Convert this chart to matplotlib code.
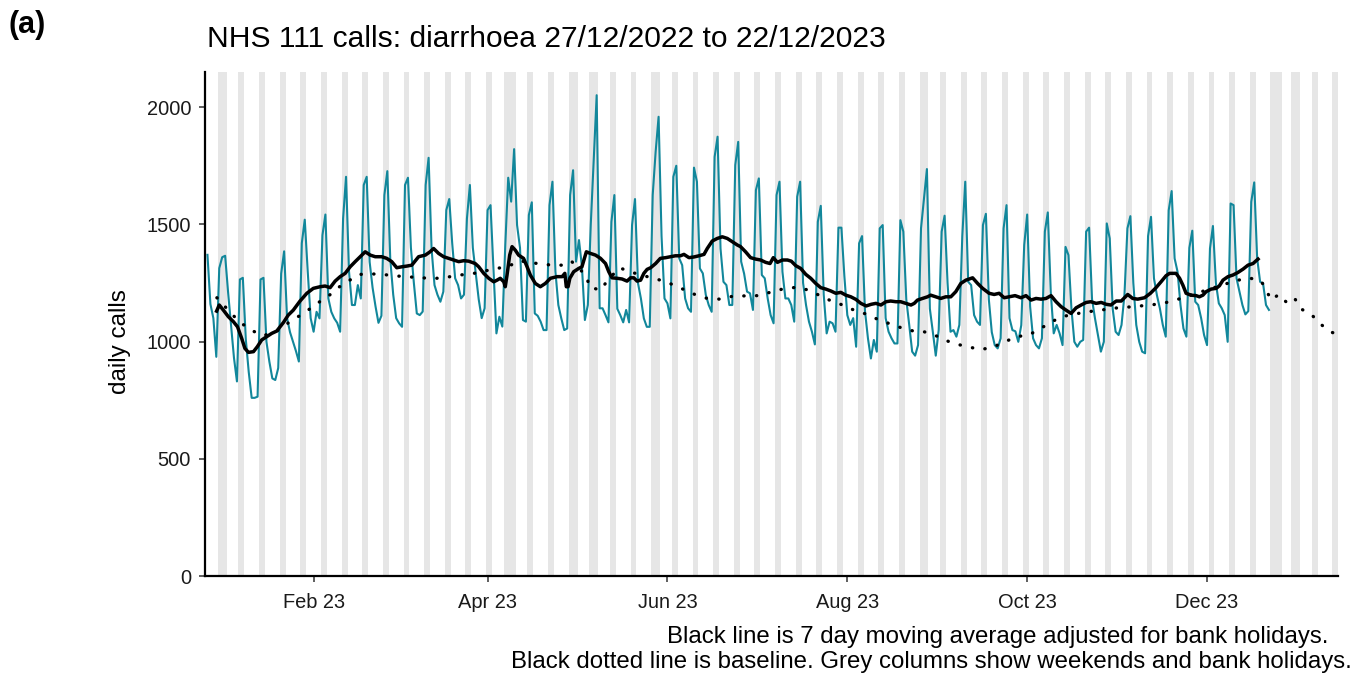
import matplotlib
matplotlib.use("Agg")
import matplotlib.pyplot as plt
import pandas as pd

plt.rcParams["font.family"] = ["Liberation Sans", "DejaVu Sans"]

# ---------------- data ----------------
start_date = "2022-12-27"

# daily NHS 111 diarrhoea calls (first row Tue-Fri, then one row per Sat..Fri week)
daily_calls = [
    1370, 1160, 1100, 935,
    1313, 1360, 1366, 1210, 1070, 930, 830,
    1265, 1272, 1010, 870, 760, 760, 765,
    1265, 1272, 1000, 914, 843, 836, 887,
    1290, 1385, 1100, 1040, 1000, 960, 915,
    1420, 1520, 1300, 1100, 1042, 1127, 1099,
    1454, 1542, 1184, 1127, 1099, 1080, 1042,
    1525, 1703, 1300, 1156, 1156, 1241, 1184,
    1668, 1703, 1340, 1230, 1150, 1080, 1110,
    1625, 1727, 1350, 1200, 1100, 1078, 1063,
    1668, 1699, 1400, 1250, 1120, 1113, 1128,
    1668, 1784, 1397, 1241, 1200, 1170, 1213,
    1561, 1608, 1420, 1270, 1241, 1184, 1200,
    1525, 1668, 1400, 1290, 1180, 1100, 1142,
    1561, 1582, 1310, 1035, 1106, 1064, 1410,
    1699, 1597, 1821, 1497, 1400, 1092, 1085,
    1540, 1594, 1120, 1110, 1085, 1049, 1049,
    1582, 1682, 1300, 1156, 1099, 1049, 1056,
    1625, 1731, 1341, 1433, 1320, 1092, 1156,
    1500, 1780, 2051, 1142, 1142, 1113, 1082,
    1511, 1625, 1140, 1113, 1082, 1135, 1082,
    1497, 1608, 1250, 1184, 1099, 1063, 1063,
    1625, 1810, 1959, 1450, 1184, 1163, 1099,
    1703, 1750, 1355, 1326, 1184, 1142, 1127,
    1742, 1682, 1312, 1291, 1200, 1156, 1127,
    1788, 1874, 1397, 1255, 1241, 1156, 1156,
    1753, 1852, 1341, 1290, 1213, 1206, 1135,
    1646, 1696, 1284, 1270, 1184, 1113, 1078,
    1625, 1682, 1298, 1184, 1184, 1156, 1085,
    1618, 1682, 1250, 1156, 1085, 1042, 988,
    1511, 1579, 1200, 1035, 1085, 1078, 1042,
    1486, 1486, 1280, 1113, 1071, 1100, 978,
    1419, 1450, 1130, 1014, 928, 1007, 957,
    1483, 1497, 1100, 1042, 1014, 992, 992,
    1518, 1469, 1180, 1071, 957, 940, 985,
    1483, 1611, 1736, 1140, 1042, 940, 1050,
    1469, 1537, 1250, 1042, 1049, 1021, 1071,
    1450, 1682, 1255, 1241, 1113, 1085, 1071,
    1497, 1545, 1180, 1040, 985, 971, 1014,
    1483, 1582, 1100, 1049, 1044, 999, 1070,
    1412, 1542, 1150, 1014, 985, 971, 1014,
    1469, 1551, 1210, 1035, 1071, 1035, 985,
    1404, 1369, 1142, 999, 978, 999, 1007,
    1469, 1486, 1180, 1099, 1028, 957, 999,
    1504, 1440, 1140, 1042, 1028, 1071, 1200,
    1483, 1535, 1250, 1071, 999, 957, 950,
    1450, 1532, 1270, 1198, 1142, 1071, 1021,
    1560, 1642, 1355, 1298, 1156, 1056, 1021,
    1400, 1473, 1170, 1156, 1100, 1028, 985,
    1397, 1493, 1250, 1163, 1142, 1113, 999,
    1589, 1582, 1270, 1213, 1156, 1116, 1130,
    1596, 1679, 1355, 1255, 1248, 1156, 1135,
]

# 7 day moving average (days after 27/12/2022, value)
ma_day = [3.1, 4.0, 5.4, 7.1, 8.8, 10.2, 11.6, 12.7, 13.9, 15.6, 16.9, 18.4, 20.1, 21.8, 23.5,
          25.8, 27.4, 29.1, 31.4, 33.7, 35.9, 38.2, 39.9, 41.6, 43.3, 45, 46.7, 48.4, 50.1,
          51.8, 53.5, 55.2, 56.9, 59.1, 60.8, 62.5, 64.2, 65.9, 67.6, 69.3, 71.6, 73.9, 75.5,
          76.7, 78.4, 80.1, 81.8, 83.5, 85.2, 86.9, 88.6, 90.8, 92, 93.7, 95.4, 97.1, 98.2,
          99.3, 100.5, 101, 101.6, 102.5, 103.3, 104.4, 105.5, 107.2, 108.4, 109.5, 111.2,
          112.9, 114.6, 116.3, 118.6, 120.3, 121.2, 121.7, 122.3, 122.9, 124.2, 125.9, 127,
          128.5, 129.9, 131.6, 133.3, 135, 136.1, 137.2, 138.9, 140.6, 142.3, 143.5, 144.6,
          145.7, 146.9, 148, 149.1, 150.3, 152, 153.6, 155.4, 157, 158.7, 160.4, 161.6, 163.3,
          165, 166.7, 168.4, 169.5, 171.2, 172.9, 174.6, 176.3, 178, 179.7, 180.8, 182.5,
          184.2, 185.9, 187.6, 189.3, 190.8, 191.9, 193.3, 195, 196.7, 198, 199.5, 201.2,
          202.9, 204.6, 206.3, 208, 209.7, 211.4, 213.1, 214.8, 216.5, 218.2, 219.9, 221.6,
          223.4, 225.1, 226.7, 228.4, 230.1, 231.7, 233.5, 235.1, 236.9, 238.6, 239.7, 240.8,
          242.5, 244.2, 245.3, 247, 248.7, 250.4, 252.1, 253.8, 255.5, 257.2, 259.5, 261.2,
          262.9, 265.1, 266.8, 268.5, 270.2, 271.9, 273.9, 275.9, 277.6, 279.3, 281, 282.7,
          284.4, 286.1, 287.8, 289.5, 291.2, 292.9, 294.6, 296.3, 298, 299.6, 301.4, 303.1,
          304.8, 306.4, 308.2, 309.9, 312.1, 313.8, 315.5, 317.8, 319.8, 321.7, 323.4, 325.1,
          326.3, 328.5, 329.7, 330.8, 331.9, 333.6, 335.3, 336.4, 337.6, 338.7, 340.4, 342.1,
          343.2, 344.4, 346.1, 347.8, 349.5, 351.2, 352.9, 354.6, 356.3]
ma_value = [1130, 1156, 1134, 1106, 1085, 1063, 1014, 971, 954, 957, 978, 1007, 1021, 1035, 1045,
            1082, 1113, 1134, 1173, 1206, 1227, 1234, 1237, 1230, 1258, 1277, 1291, 1319, 1341,
            1362, 1383, 1369, 1362, 1362, 1355, 1341, 1315, 1319, 1322, 1326, 1362, 1369, 1383,
            1397, 1376, 1362, 1355, 1348, 1341, 1345, 1343, 1333, 1319, 1291, 1270, 1255, 1262,
            1270, 1255, 1234, 1284, 1369, 1405, 1390, 1369, 1355, 1319, 1284, 1248,
            1234, 1248, 1270, 1277, 1277, 1291, 1234, 1234, 1270, 1298, 1312, 1319,
            1383, 1376, 1369, 1355, 1333, 1298, 1272, 1270, 1267, 1258, 1272, 1272,
            1258, 1262, 1291, 1308, 1315, 1333, 1355, 1358, 1362, 1366, 1366, 1372, 1358,
            1361, 1366, 1372, 1397, 1429, 1440, 1447, 1440, 1426, 1412, 1405, 1383,
            1358, 1352, 1348, 1338, 1333, 1358, 1338, 1348, 1348, 1343, 1324, 1312,
            1287, 1270, 1248, 1230, 1224, 1216, 1206, 1210, 1198, 1191, 1180, 1163,
            1152, 1159, 1163, 1156, 1170, 1173, 1170, 1170, 1163, 1156, 1163, 1177,
            1184, 1191, 1198, 1191, 1184, 1191, 1191, 1213, 1248, 1262, 1272, 1248,
            1227, 1206, 1201, 1206, 1187, 1191, 1196, 1187, 1196, 1177, 1184, 1181,
            1184, 1196, 1170, 1149, 1134, 1120, 1144, 1156, 1167, 1170, 1163, 1167,
            1159, 1156, 1173, 1173, 1201, 1184, 1181, 1187, 1206, 1230, 1255, 1281,
            1291, 1291, 1270, 1241, 1206, 1198, 1196, 1191, 1198, 1213, 1224, 1227,
            1238, 1262, 1277, 1284, 1295, 1309, 1326, 1333, 1352]

# baseline (days after 27/12/2022, value)
baseline_day = [3.2, 8.6, 11.4, 15, 18.7, 22.9, 28, 33.4, 36.9, 40.7, 43.9, 47.5, 51, 55.4, 59.7,
                64, 68.4, 72.7, 77, 81.4, 85.7, 90, 98, 101.6, 106, 113, 117, 121, 123.4, 128.5,
                129.6, 133.5, 135.3, 139.7, 144, 150.6, 154.2, 157.6, 161.2, 165.3, 169.5,
                173.8, 178, 182.3, 186.7, 190.8, 195, 199.3, 203.5, 207.4, 211.1, 215.4, 219.3,
                223.5, 227.3, 231.4, 235.5, 239.7, 242.5, 246.6, 249.9, 253.8, 258.1, 262.4,
                266.5, 270.6, 274.4, 278.5, 282.1, 285.8, 289.7, 294, 298.3, 302.5, 306.8,
                311.2, 315.5, 319.8, 324, 328.3, 336.4, 344.8, 348.9, 353.2, 357.4, 359.3,
                360.8, 363.3, 366, 368.6, 370.8, 374.5, 377.3, 380.6, 384.8]
baseline_value = [1187, 1113, 1079, 1048, 1025, 1039, 1085, 1127, 1161, 1190, 1227, 1255, 1286,
                  1289, 1286, 1280, 1276, 1272, 1269, 1275, 1284, 1290, 1312, 1319, 1344, 1331,
                  1326, 1326, 1343, 1281, 1231, 1220, 1255, 1315, 1295, 1272, 1260, 1244, 1224,
                  1201, 1184, 1181, 1193, 1195, 1196, 1210, 1224, 1231, 1221, 1198, 1176, 1156,
                  1134, 1117, 1095, 1076, 1058, 1044, 1044, 1028, 1007, 990, 977, 966, 977,
                  1000, 1021, 1028, 1052, 1081, 1106, 1117, 1127, 1133, 1142, 1146, 1151, 1156,
                  1163, 1177, 1210, 1244, 1260, 1272, 1258, 1213, 1177, 1201, 1167, 1187, 1140,
                  1114, 1077, 1043, 1023]

bank_holidays = ["2023-01-02", "2023-04-07", "2023-04-10", "2023-05-01", "2023-05-08",
                 "2023-05-29", "2023-08-28", "2023-12-25", "2023-12-26", "2024-01-01"]
shade_start = "2022-12-26"
shade_end = "2024-01-14"

x_tick_dates = ["2023-02-01", "2023-04-01", "2023-06-01", "2023-08-01", "2023-10-01", "2023-12-01"]
x_tick_labels = ["Feb 23", "Apr 23", "Jun 23", "Aug 23", "Oct 23", "Dec 23"]
y_ticks = [0, 500, 1000, 1500, 2000]

title_text = "NHS 111 calls: diarrhoea 27/12/2022 to 22/12/2023"
caption_1 = "Black line is 7 day moving average adjusted for bank holidays."
caption_2 = "Black dotted line is baseline. Grey columns show weekends and bank holidays."

# ---------------- figure ----------------
W, H = 1362, 677
fig = plt.figure(figsize=(W / 100, H / 100), dpi=100)
ax = fig.add_axes([205 / W, 1 - 576 / H, (1338 - 205) / W, (576 - 72) / H])

t0 = pd.Timestamp(start_date)
dates = pd.date_range(t0, periods=len(daily_calls), freq="D")
ma_dates = [t0 + pd.Timedelta(days=d) for d in ma_day]
bl_dates = [t0 + pd.Timedelta(days=d) for d in baseline_day]

# grey columns
all_days = pd.date_range(shade_start, shade_end, freq="D")
bh = set(pd.to_datetime(bank_holidays))
half = pd.Timedelta(hours=12)
for d in all_days:
    if d.dayofweek >= 5 or d in bh:
        ax.axvspan(d - half, d + half, color="#E6E6E6", lw=0, zorder=0)

ax.plot(dates, daily_calls, color="#12879B", lw=1.5, zorder=2)
ax.plot(bl_dates, baseline_value, color="black", lw=2.4, linestyle=(0, (0.1, 3.7)),
        dash_capstyle="round", zorder=3)
ax.plot(ma_dates, ma_value, color="black", lw=2.5, zorder=4, solid_joinstyle="round")

ax.set_xlim(pd.Timestamp("2022-12-26 04:00"), pd.Timestamp("2024-01-14 10:00"))
ax.set_ylim(0, 2150)

ax.set_xticks(pd.to_datetime(x_tick_dates))
ax.set_xticklabels(x_tick_labels)
ax.set_yticks(y_ticks)
ax.set_yticklabels([str(v) for v in y_ticks])

for s in ["top", "right"]:
    ax.spines[s].set_visible(False)
for s in ["left", "bottom"]:
    ax.spines[s].set_linewidth(1.6)
    ax.spines[s].set_color("black")

ax.tick_params(axis="both", length=4, width=1.1, color="#333333", labelsize=14.4,
               labelcolor="#1a1a1a")
ax.tick_params(axis="y", pad=6)
ax.tick_params(axis="x", pad=8)

fig.text(120 / W, 1 - 342 / H, "daily calls", rotation=90, fontsize=17.5,
         ha="center", va="center")
fig.text(207 / W, 1 - 39 / H, title_text, fontsize=21.6, ha="left", va="center")
fig.text(8 / W, 1 - 25 / H, "(a)", fontsize=22, fontweight="bold", ha="left", va="center")
fig.text(1328 / W, 1 - 637 / H, caption_1, fontsize=17.3, ha="right", va="center")
fig.text(1352 / W, 1 - 662 / H, caption_2, fontsize=17.3, ha="right", va="center")

fig.savefig("out.png", dpi=100)
